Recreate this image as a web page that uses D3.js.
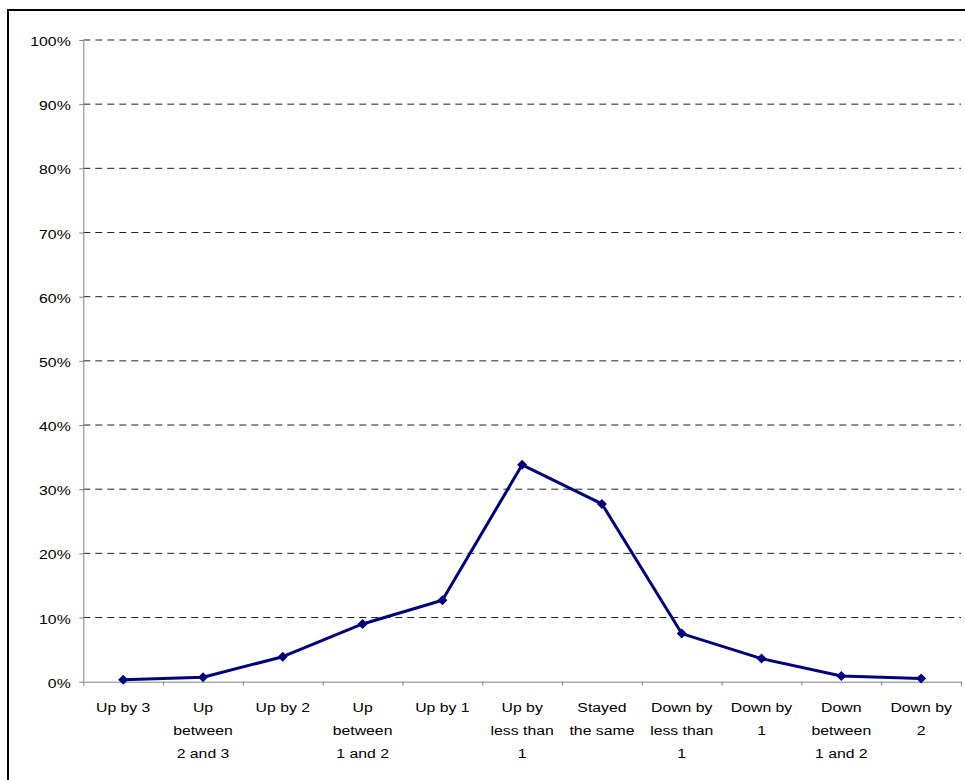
<!DOCTYPE html>
<html>
<head>
<meta charset="utf-8">
<script src="https://cdn.jsdelivr.net/npm/d3@7"></script>
<style>
  body { margin: 0; background: #fff; }
  svg { display: block; }
  text { font-family: "Liberation Sans", Arial, sans-serif; font-size: 13.5px; fill: #000; }
</style>
</head>
<body>
<div id="chart"></div>
<script>
// categories (label lines as shown under the axis)
const categories = [
  'Up by 3',
  'Up|between|2 and 3',
  'Up by 2',
  'Up|between|1 and 2',
  'Up by 1',
  'Up by|less than|1',
  'Stayed|the same',
  'Down by|less than|1',
  'Down by|1',
  'Down|between|1 and 2',
  'Down by|2'
];

// share of respondents per category
const shares = [0.003, 0.007, 0.039, 0.090, 0.127, 0.338, 0.277, 0.075, 0.036, 0.009, 0.005];

const yTicks = [0, 0.1, 0.2, 0.3, 0.4, 0.5, 0.6, 0.7, 0.8, 0.9, 1.0];

const W = 965, H = 780;
const plot = { left: 83.3, right: 961, top: 40, bottom: 681.7 };
const stretch = 1.17; // text is drawn a bit wide in the original

const svg = d3.select('#chart').append('svg')
  .attr('width', W)
  .attr('height', H);

// outer chart frame (runs off the right and bottom edges)
svg.append('rect')
  .attr('x', 8)
  .attr('y', 10)
  .attr('width', W + 20)
  .attr('height', H + 20)
  .attr('fill', 'none')
  .attr('stroke', '#000')
  .attr('stroke-width', 2);

const x = d3.scaleBand()
  .domain(d3.range(categories.length))
  .range([plot.left, plot.right])
  .padding(0);

const xEdges = d3.scaleLinear()
  .domain([0, categories.length])
  .range([plot.left, plot.right]);

const y = d3.scaleLinear()
  .domain([0, 1])
  .range([plot.bottom, plot.top]);

// dashed gridlines
svg.append('g')
  .selectAll('line')
  .data(yTicks.filter((d) => d > 0))
  .enter()
  .append('line')
  .attr('x1', plot.left)
  .attr('x2', plot.right)
  .attr('y1', (d) => y(d))
  .attr('y2', (d) => y(d))
  .attr('stroke', '#222')
  .attr('stroke-width', 1)
  .attr('stroke-dasharray', '7,5');

// y axis
const yAxis = svg.append('g')
  .attr('transform', `translate(${plot.left},0)`)
  .call(d3.axisLeft(y).tickValues(yTicks).tickFormat(d3.format('.0%')).tickSize(4).tickSizeOuter(0));

yAxis.select('.domain').attr('stroke', '#808080');
yAxis.selectAll('.tick line').attr('stroke', '#808080');
yAxis.selectAll('.tick text')
  .attr('x', null)
  .attr('dy', null)
  .attr('text-anchor', 'end')
  .attr('transform', `translate(-12.6,5.5) scale(${stretch},1)`)
  .style('font-size', '13.5px')
  .style('font-family', '"Liberation Sans", Arial, sans-serif');

// x axis: ticks on category boundaries
const xAxis = svg.append('g')
  .attr('transform', `translate(0,${plot.bottom})`)
  .call(d3.axisBottom(xEdges).tickValues(d3.range(categories.length + 1)).tickFormat('').tickSize(4).tickSizeOuter(0));

xAxis.select('.domain').attr('stroke', '#808080');
xAxis.selectAll('.tick line').attr('stroke', '#808080');

// category labels
const labels = svg.append('g')
  .selectAll('g')
  .data(categories)
  .enter()
  .append('g')
  .attr('transform', (d, i) => `translate(${x(i) + x.bandwidth() / 2},${plot.bottom + 30})`);

labels.selectAll('text')
  .data((d) => d.split('|'))
  .enter()
  .append('text')
  .attr('text-anchor', 'middle')
  .attr('transform', (d, i) => `translate(0,${i * 23.3}) scale(${stretch},1)`)
  .text((d) => d);

// series line
const line = d3.line()
  .x((d, i) => x(i) + x.bandwidth() / 2)
  .y((d) => y(d));

svg.append('path')
  .datum(shares)
  .attr('d', line)
  .attr('fill', 'none')
  .attr('stroke', '#000080')
  .attr('stroke-width', 3)
  .attr('stroke-linejoin', 'round');

// diamond markers
svg.append('g')
  .selectAll('path')
  .data(shares)
  .enter()
  .append('path')
  .attr('d', d3.symbol(d3.symbolSquare, 50))
  .attr('transform', (d, i) => `translate(${x(i) + x.bandwidth() / 2},${y(d)}) rotate(45)`)
  .attr('fill', '#000080');
</script>
</body>
</html>
